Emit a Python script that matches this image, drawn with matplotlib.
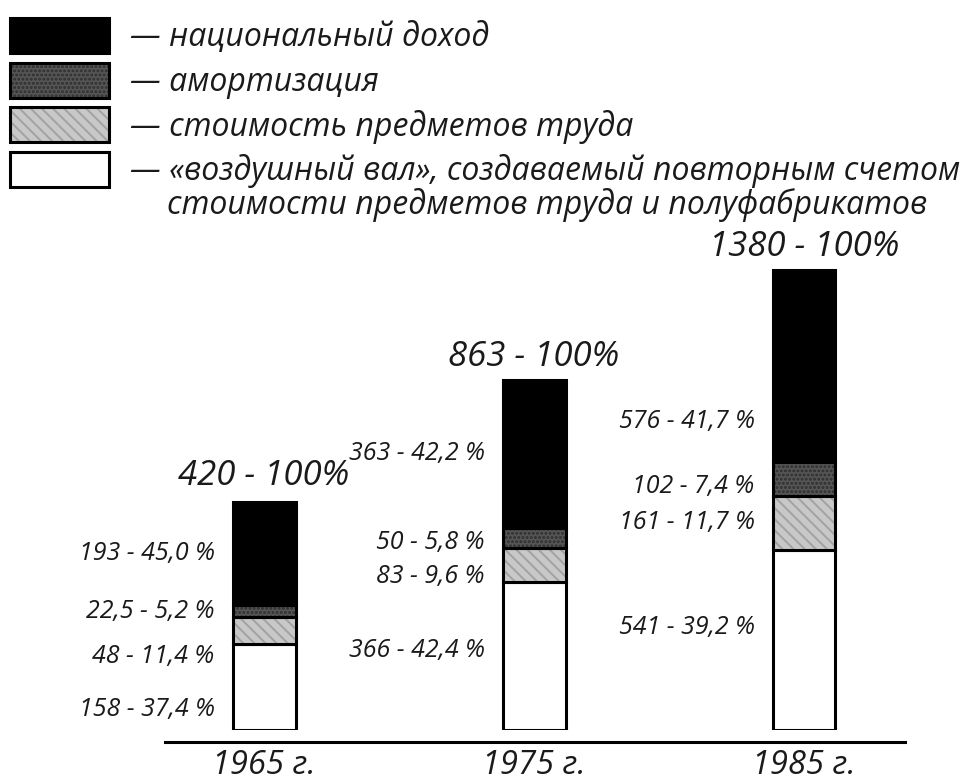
import matplotlib
matplotlib.use('Agg')
import matplotlib.pyplot as plt
from matplotlib.patches import Patch

plt.rcParams['font.family'] = ['Open Sans', 'DejaVu Sans']
plt.rcParams['font.style'] = 'italic'
plt.rcParams['hatch.linewidth'] = 1.4

# data
years = ['1965 г.', '1975 г.', '1985 г.']
totals = [420, 863, 1380]
# bottom -> top: "воздушный вал", предметы труда, амортизация, национальный доход
val_air = ['158', '366', '541']
pct_air = [37.4, 42.4, 39.2]
val_mat = ['48', '83', '161']
pct_mat = [11.4, 9.6, 11.7]
val_amort = ['22,5', '50', '102']
pct_amort = [5.2, 5.8, 7.4]
val_income = ['193', '363', '576']
pct_income = [45.0, 42.2, 41.7]

series_names = ['национальный доход', 'амортизация', 'стоимость предметов труда',
                '«воздушный вал», создаваемый повторным счетом']
last_name_cont = 'стоимости предметов труда и полуфабрикатов'

# styles (bottom -> top)
face = ['white', '#c8c8c8', '#555555', 'black']
hatch_col = ['white', '#a2a2a2', '#2e2e2e', 'black']
hatches = [None, '\\\\\\', '....', None]
# small vertical nudges for the side labels, in pixels (bottom -> top)
label_nudge_px = [[-23, -26, 0, 0], [5, -12, -5, 0], [12, 0, -8, -55]]

fig = plt.figure(figsize=(9.72, 7.8), dpi=100)
ax = fig.add_axes([165 / 972, 50 / 780, 740 / 972, 500 / 780])

# bars in the drawing are not to scale: height grows roughly as total**0.58
heights = [t ** 0.58 for t in totals]
x = [0, 1, 2]
w = 0.233

segs = [pct_air, pct_mat, pct_amort, pct_income]
vals = [val_air, val_mat, val_amort, val_income]
bottoms = [0.0, 0.0, 0.0]
for k in range(4):
    hs = [segs[k][i] / 100 * heights[i] for i in range(3)]
    ax.bar(x, hs, w, bottom=bottoms, color=face[k], edgecolor=hatch_col[k],
           hatch=hatches[k], linewidth=0)
    ax.bar(x, hs, w, bottom=bottoms, fill=False, edgecolor='black', linewidth=2.2)
    for i in range(3):
        lbl = '%s - %s %%' % (vals[k][i], ('%.1f' % segs[k][i]).replace('.', ','))
        ax.annotate(lbl, (x[i] - w / 2, bottoms[i] + hs[i] / 2),
                    xytext=(-18, label_nudge_px[i][k]), textcoords='offset pixels',
                    ha='right', va='center', fontsize=18, color='#1a1a1a')
    bottoms = [bottoms[i] + hs[i] for i in range(3)]

for i in range(3):
    ax.annotate('%d - 100%%' % totals[i], (x[i], heights[i]), xytext=(0, 6),
                textcoords='offset pixels', ha='center', va='bottom',
                fontsize=25, color='#1a1a1a')

ax.set_xlim(-0.367, 2.374)
ax.set_ylim(0, 500 / 6.94)
for s in ['top', 'right', 'left']:
    ax.spines[s].set_visible(False)
ax.spines['bottom'].set_position(('outward', 8.6))
ax.spines['bottom'].set_linewidth(2.2)
ax.set_yticks([])
ax.set_xticks(x)
ax.set_xticklabels(years, fontsize=23.5, color='#1a1a1a')
ax.tick_params(axis='x', length=0, pad=5)

# legend
handles = []
for k in [3, 2, 1, 0]:
    handles.append((Patch(facecolor=face[k], edgecolor=hatch_col[k], hatch=hatches[k], linewidth=0),
                    Patch(fill=False, edgecolor='black', linewidth=2.2)))
labels = ['— ' + n for n in series_names]
leg = fig.legend(handles, labels, loc='upper left', bbox_to_anchor=(10 / 972, 1 - 18 / 780),
                 frameon=False, fontsize=23, handlelength=3.1, handleheight=1.3,
                 handletextpad=0.65, labelspacing=0.27, borderpad=0, borderaxespad=0,
                 labelcolor='#1a1a1a')
# second line of the last legend entry
fig.canvas.draw()
fig.add_artist(plt.Annotation(last_name_cont, xy=(0, 0.5), xycoords=leg.get_texts()[3],
                              xytext=(37, -34), textcoords='offset pixels',
                              va='center', ha='left', fontsize=23, color='#1a1a1a'))

fig.savefig('out.png', dpi=100, facecolor='white')
